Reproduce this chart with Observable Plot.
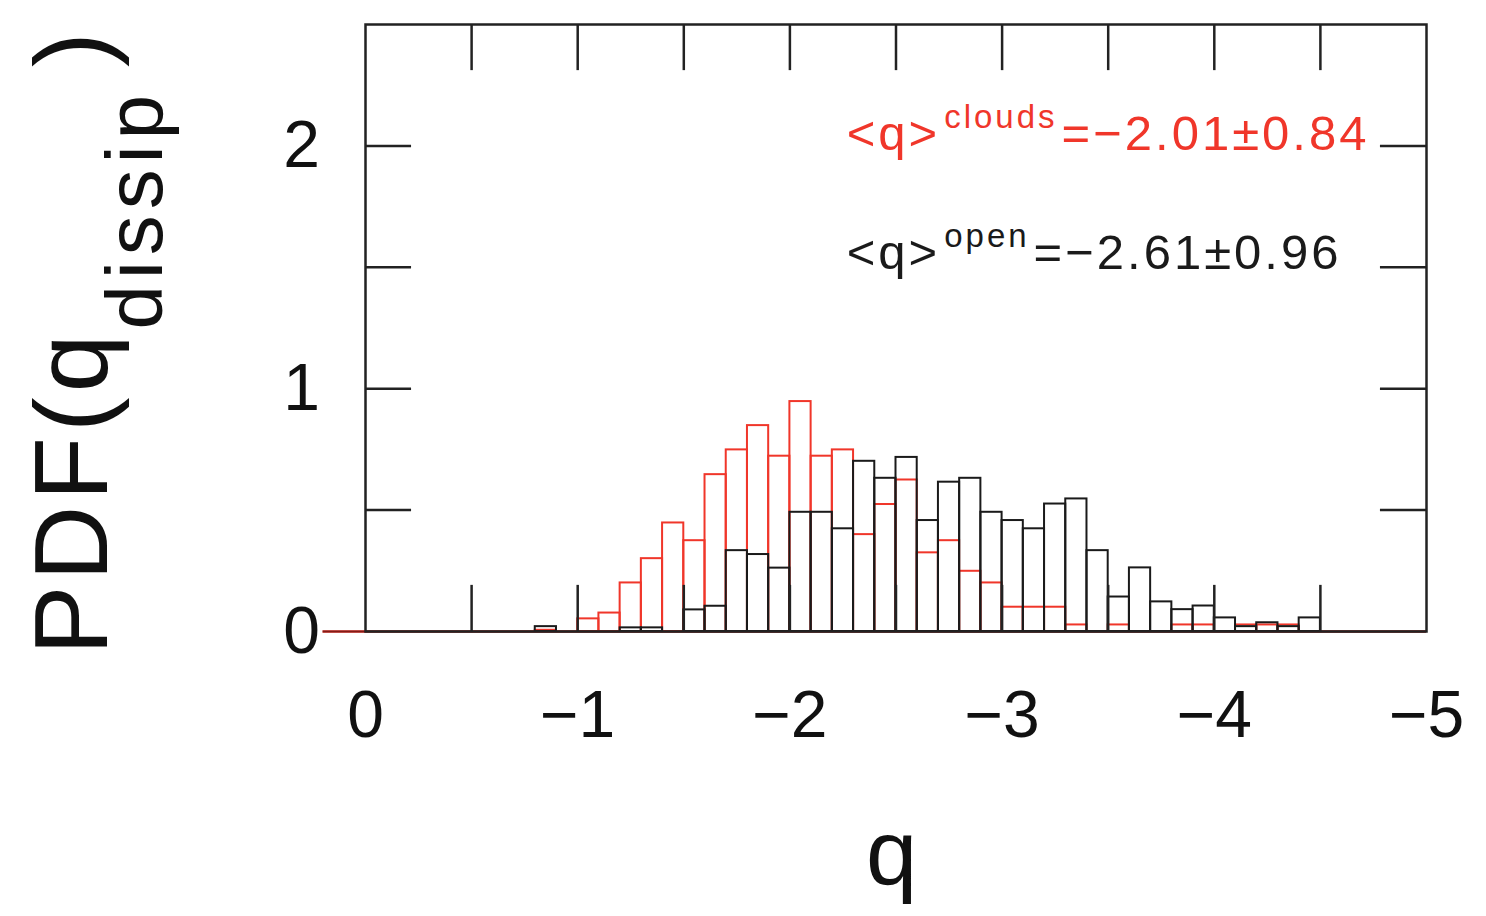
<!DOCTYPE html>
<html><head><meta charset="utf-8">
<script src="https://cdn.jsdelivr.net/npm/d3@7"></script>
<script src="https://cdn.jsdelivr.net/npm/@observablehq/plot@0.6"></script>
<style>html,body{margin:0;padding:0;background:#fff;}</style>
</head><body><div id="chart"></div>
<script>
// Upper edge of each 0.1-wide bin in q (bins run toward more negative q)
const binStart = [0.2, 0.1, 0.0, -0.1, -0.2, -0.3, -0.4, -0.5, -0.6, -0.7,
  -0.8, -0.9, -1.0, -1.1, -1.2, -1.3, -1.4, -1.5, -1.6, -1.7,
  -1.8, -1.9, -2.0, -2.1, -2.2, -2.3, -2.4, -2.5, -2.6, -2.7,
  -2.8, -2.9, -3.0, -3.1, -3.2, -3.3, -3.4, -3.5, -3.6, -3.7,
  -3.8, -3.9, -4.0, -4.1, -4.2, -4.3, -4.4, -4.5, -4.6, -4.7,
  -4.8, -4.9];
const binWidth = 0.1;
const pdfClouds = [0, 0, 0, 0, 0, 0, 0, 0, 0, 0,
  0.005, 0, 0.052, 0.076, 0.20, 0.30, 0.447, 0.374, 0.646, 0.748,
  0.848, 0.722, 0.947, 0.722, 0.748, 0.399, 0.523, 0.624, 0.324, 0.374,
  0.248, 0.20, 0.10, 0.10, 0.10, 0.027, 0, 0.027, 0, 0,
  0.027, 0.027, 0, 0.027, 0.027, 0.027, 0, 0, 0, 0,
  0, 0];
const pdfOpen = [0, 0, 0, 0, 0, 0, 0, 0, 0, 0,
  0.02, 0, 0, 0, 0.015, 0.015, 0, 0.089, 0.104, 0.333,
  0.317, 0.261, 0.491, 0.491, 0.423, 0.701, 0.631, 0.717, 0.457, 0.615,
  0.631, 0.491, 0.457, 0.423, 0.525, 0.546, 0.333, 0.142, 0.262, 0.122,
  0.09, 0.105, 0.056, 0.02, 0.036, 0.02, 0.056, 0, 0, 0,
  0, 0];
const xTickLabels = [0, -1, -2, -3, -4, -5];
const xMinorTicks = [-0.5, -1, -1.5, -2, -2.5, -3, -3.5, -4, -4.5];
const yTickLabels = [0, 1, 2];
const yMinorTicks = [0.5, 1, 1.5, 2];
const seriesNames = ["clouds", "open"];
const seriesMeans = ["−2.01", "−2.61"];
const seriesSd = ["0.84", "0.96"];

const RED = "#f0362a";
const BLACK = "#1a1a1a";
const FONT = "'Liberation Sans', Arial, sans-serif";

const rows = binStart.map((x, i) => ({x1: x, x2: x - binWidth, clouds: pdfClouds[i], open: pdfOpen[i]}));
const fmt = d => d === 0 ? "0" : (d < 0 ? "−" + Math.abs(d) : String(d));

function annotations(index, scales, values, dims) {
  const g = d3.create("svg:g").attr("font-family", FONT).attr("text-anchor", "start");
  const colors = [RED, BLACK];
  const ys = [1.98, 1.49];
  seriesNames.forEach((name, i) => {
    const t = g.append("text")
      .attr("text-anchor", "start")
      .attr("x", scales.x(-2.27)).attr("y", scales.y(ys[i]))
      .attr("fill", colors[i]).attr("font-size", 49).attr("letter-spacing", 3);
    t.append("tspan").text("<q>");
    t.append("tspan").attr("dx", 4).attr("dy", -22).attr("font-size", 33).attr("letter-spacing", 3).text(name);
    t.append("tspan").attr("dy", 22).attr("dx", 4).text("=" + seriesMeans[i] + "±" + seriesSd[i]);
  });
  // axis titles
  const yl = g.append("text")
    .attr("text-anchor", "start")
    .attr("transform", `translate(107,${dims.height - 261}) rotate(-90)`)
    .attr("font-size", 104).attr("letter-spacing", 5).attr("fill", "#111");
  yl.append("tspan").text("PDF(q");
  yl.append("tspan").attr("dy", 55).attr("font-size", 80).attr("letter-spacing", 6).text("dissip");
  yl.append("tspan").attr("dy", -55).attr("dx", 22).text(")");
  g.append("text")
    .attr("text-anchor", "middle")
    .attr("x", (dims.marginLeft + dims.width - dims.marginRight) / 2 - 4)
    .attr("y", dims.height - dims.marginBottom + 254)
    .attr("font-size", 92).attr("fill", "#111").text("q");
  return g.node();
}

const plot = Plot.plot({
  width: 1486,
  height: 916,
  marginLeft: 365,
  marginRight: 60,
  marginTop: 24,
  marginBottom: 285,
  style: {fontFamily: FONT, background: "#fff"},
  x: {domain: [0, -5], axis: null},
  y: {domain: [0, 2.5], axis: null},
  marks: [
    Plot.rectY(rows.filter(d => d.clouds > 0), {x1: "x1", x2: "x2", y1: 0, y2: "clouds", fill: "none", stroke: RED, strokeWidth: 2, inset: 0}),
    Plot.ruleY([0], {x1: binStart[0], x2: binStart[binStart.length - 1] - binWidth, stroke: RED, strokeWidth: 2.5}),
    Plot.rectY(rows.filter(d => d.open > 0), {x1: "x1", x2: "x2", y1: 0, y2: "open", fill: "none", stroke: BLACK, strokeWidth: 2, inset: 0}),
    Plot.ruleY([0], {x1: binStart[0], x2: binStart[binStart.length - 1] - binWidth, stroke: "#3a0a0a", strokeWidth: 2, strokeOpacity: 0.6}),
    Plot.ruleX(xMinorTicks, {x: d => d, y1: 0, y2: 0.19, stroke: "#222", strokeWidth: 2.5}),
    Plot.ruleX(xMinorTicks, {x: d => d, y1: 2.5, y2: 2.31, stroke: "#222", strokeWidth: 2.5}),
    Plot.ruleY(yMinorTicks, {y: d => d, x1: 0, x2: -0.217, stroke: "#222", strokeWidth: 2.5}),
    Plot.ruleY(yMinorTicks, {y: d => d, x1: -5, x2: -4.783, stroke: "#222", strokeWidth: 2.5}),
    Plot.frame({stroke: "#222", strokeWidth: 2.5}),
    Plot.text(xTickLabels, {x: d => d, y: 0, dy: 84, text: fmt, fontSize: 66, fill: "#111", lineAnchor: "middle"}),
    Plot.text(yTickLabels, {x: 0, y: d => d, dx: -64, text: fmt, fontSize: 66, fill: "#111", textAnchor: "middle", lineAnchor: "middle"}),
    annotations
  ]
});
document.getElementById("chart").appendChild(plot);
</script>
</body></html>
